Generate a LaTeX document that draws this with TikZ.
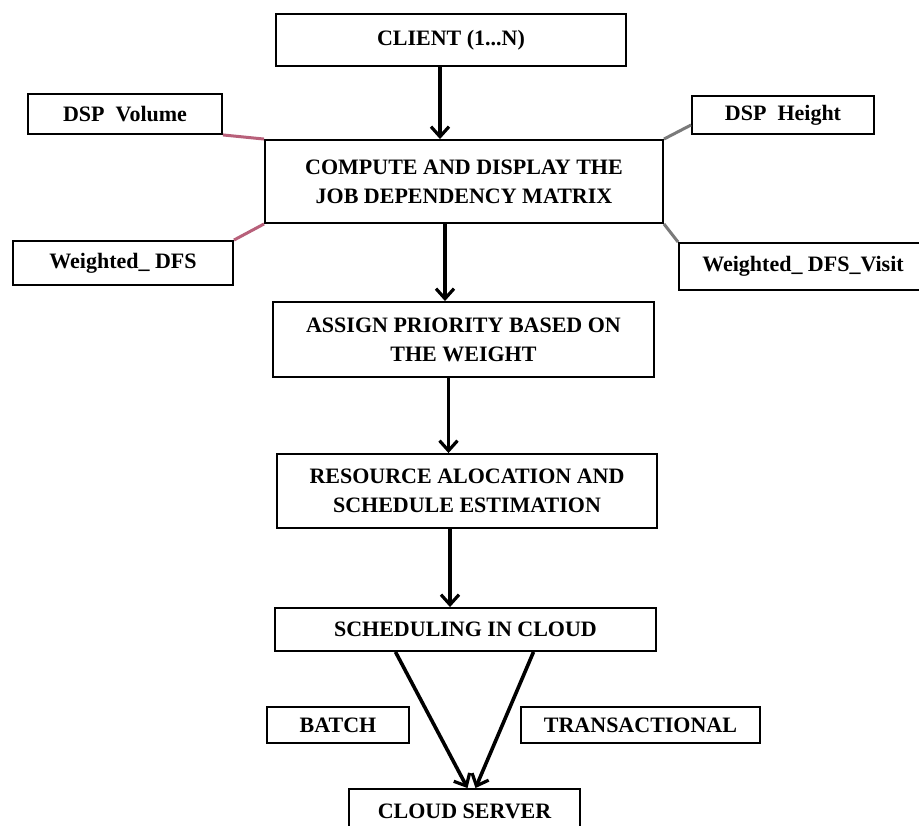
\documentclass[tikz,border=0pt]{standalone}
\usepackage{fontspec}
\setmainfont{Liberation Serif}
\usepackage{tikz}
\usetikzlibrary{arrows.meta,calc}
\usepackage{xcolor}
\definecolor{Rose}{HTML}{B8607A}
\definecolor{Ash}{HTML}{7A7A7A}
\tikzset{
  flowbox/.style={draw=black, line width=1.9pt, inner sep=0pt, align=center,
    font=\fontsize{22}{29}\selectfont\bfseries, fill=white},
  flowarr/.style={-{Straight Barb[length=10pt,width=18pt,line width=3.2pt]},
    line width=3.6pt, color=black},
  sidelink/.style={line width=3pt, color=#1},
  sidelink/.default={Ash},
}

\begin{document}
\begin{tikzpicture}[x=1pt, y=-1pt]
  \useasboundingbox[fill=white] (0,0) rectangle (919,826);

  % main chain
  \node[flowbox, minimum width=350pt, minimum height=52pt] (client) at (451,40)
    {CLIENT (1...N)};
  \node[flowbox, minimum width=398pt, minimum height=83pt] (compute) at (464,181.5)
    {COMPUTE AND DISPLAY THE\\JOB DEPENDENCY MATRIX};
  \node[flowbox, minimum width=381pt, minimum height=75pt] (assign) at (463.5,339.5)
    {ASSIGN PRIORITY BASED ON\\THE WEIGHT};
  \node[flowbox, minimum width=380pt, minimum height=74pt] (resource) at (467,491)
    {RESOURCE ALOCATION AND\\SCHEDULE ESTIMATION};
  \node[flowbox, minimum width=381pt, minimum height=43pt] (sched) at (465.5,629.5)
    {SCHEDULING IN CLOUD};
  \node[flowbox, minimum width=231pt, minimum height=44pt] (cloud) at (464.5,811)
    {CLOUD SERVER};

  % side boxes
  \node[flowbox, minimum width=194pt, minimum height=40pt] (dspvol) at (125,114)
    {DSP\ \ Volume};
  \node[flowbox, minimum width=182pt, minimum height=38pt] (dsph) at (783,115)
    {DSP\ \ Height};
  \node[flowbox, minimum width=220pt, minimum height=44pt] (wdfs) at (123,263)
    {Weighted\_ DFS};
  \node[flowbox, minimum width=248pt, minimum height=47pt] (wdfsv) at (803,266.5)
    {Weighted\_ DFS\_Visit};
  \node[flowbox, minimum width=142pt, minimum height=36pt] (batch) at (338,725)
    {BATCH};
  \node[flowbox, minimum width=239pt, minimum height=36pt] (trans) at (640.5,725)
    {TRANSACTIONAL};

  % links to the matrix box
  \draw[sidelink=Rose] (dspvol.south east) -- (compute.north west);
  \draw[sidelink=Rose] (wdfs.north east) -- (compute.south west);
  \draw[sidelink] ([yshift=-10pt]dsph.west) -- (compute.north east);
  \draw[sidelink] (wdfsv.north west) -- (compute.south east);

  % arrows
  \draw[flowarr] ([xshift=-11pt]client.south) -- ([xshift=-11pt]client.south |- compute.north);
  \draw[flowarr] ([xshift=-19pt]compute.south) -- ([xshift=-19pt]compute.south |- assign.north);
  \draw[flowarr] ([xshift=-15pt]assign.south) -- ([xshift=-15pt]assign.south |- resource.north);
  \draw[flowarr] ([xshift=-17pt]resource.south) -- ([xshift=-17pt]resource.south |- sched.north);
  \draw[flowarr] ([xshift=-70pt]sched.south) -- ([xshift=3pt]cloud.north);
  \draw[flowarr] ([xshift=68pt]sched.south) -- ([xshift=11pt]cloud.north);
\end{tikzpicture}
\end{document}
